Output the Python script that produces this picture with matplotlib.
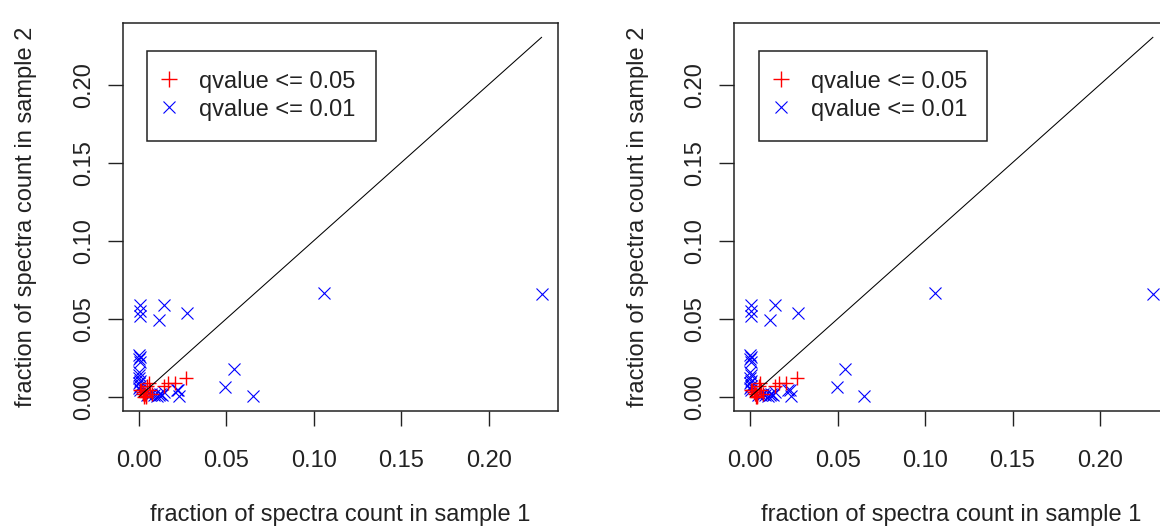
import matplotlib
matplotlib.use("Agg")
import matplotlib.pyplot as plt
from matplotlib.lines import Line2D

# points with qvalue <= 0.01 (blue x)
blue_x = [0.1059, 0.2305, 0.0543, 0.0493, 0.0650, 0.0272, 0.0140, 0.0112,
          0.0003, 0.0003, 0.0003, 0.0000, 0.0003, 0.0000, 0.0003, 0.0000,
          0.0002, 0.0000, 0.0003, 0.0000, 0.0003, 0.0000, 0.0005, 0.0225,
          0.0230, 0.0115, 0.0130, 0.0100, 0.0085, 0.0070, 0.0140, 0.0120,
          0.0060, 0.0045, 0.0215]
blue_y = [0.0667, 0.0658, 0.0180, 0.0060, 0.0005, 0.0538, 0.0588, 0.0490,
          0.0585, 0.0550, 0.0515, 0.0270, 0.0255, 0.0240, 0.0225, 0.0160,
          0.0140, 0.0120, 0.0100, 0.0085, 0.0070, 0.0055, 0.0045, 0.0045,
          0.0005, 0.0012, 0.0008, 0.0005, 0.0010, 0.0015, 0.0030, 0.0020,
          0.0008, 0.0012, 0.0040]

# points with qvalue <= 0.05 (red +)
red_x = [0.0268, 0.0165, 0.0140, 0.0205, 0.0055, 0.0048, 0.0010, 0.0005,
         0.0020, 0.0035, 0.0040, 0.0030, 0.0040, 0.0025, 0.0060, 0.0075]
red_y = [0.0118, 0.0085, 0.0070, 0.0085, 0.0085, 0.0070, 0.0045, 0.0040,
         0.0030, 0.0020, 0.0005, 0.0000, 0.0000, 0.0015, 0.0040, 0.0020]

# y = x reference line
diag = [0.0, 0.2303]

ticks = [0.00, 0.05, 0.10, 0.15, 0.20]
tick_labels = ["0.00", "0.05", "0.10", "0.15", "0.20"]
legend_labels = ["qvalue <= 0.05", "qvalue <= 0.01"]
xlabel = "fraction of spectra count in sample 1"
ylabel = "fraction of spectra count in sample 2"

plt.rcParams['font.family'] = ['Liberation Sans', 'DejaVu Sans']
plt.rcParams['font.size'] = 17

fig = plt.figure(figsize=(11.6, 5.29), dpi=100)

lo, hi = -0.0092, 0.2395

for left in [0.106, 0.633]:
    ax = fig.add_axes([left, 0.223, 0.3747, 0.7335])
    ax.plot(blue_x, blue_y, linestyle='none', marker='x', color='#0000FF',
            markersize=8, markeredgewidth=0.8)
    ax.plot(red_x, red_y, linestyle='none', marker='+', color='#FF0000',
            markersize=10, markeredgewidth=1.0)
    ax.plot(diag, diag, color='black', linewidth=0.75)

    ax.set_xlim(lo, hi)
    ax.set_ylim(lo, hi)
    ax.set_xticks(ticks)
    ax.set_xticklabels(tick_labels)
    ax.set_yticks(ticks)
    ax.set_yticklabels(tick_labels, rotation=90, va='center')
    ax.tick_params(axis='both', direction='out', length=11, width=1.0,
                   colors='#222222', labelcolor='#222222')
    ax.tick_params(axis='x', pad=17)
    ax.tick_params(axis='y', pad=9)
    for s in ax.spines.values():
        s.set_linewidth(1.1)
        s.set_color('#222222')

    ax.set_xlabel(xlabel, color='#222222')
    ax.xaxis.set_label_coords(0.5, -0.267)
    ax.xaxis.label.set_va('center')
    ax.set_ylabel(ylabel, color='#222222')
    ax.yaxis.set_label_coords(-0.222, 0.5)
    ax.yaxis.label.set_va('center')

    handles = [Line2D([], [], linestyle='none', marker='+', color='#FF0000',
                      markersize=11, markeredgewidth=1.0),
               Line2D([], [], linestyle='none', marker='x', color='#0000FF',
                      markersize=8, markeredgewidth=0.8)]
    leg = ax.legend(handles, legend_labels, loc='upper left',
                    bbox_to_anchor=(0.056, 0.929), borderaxespad=0,
                    fancybox=False, framealpha=1, edgecolor='#222222',
                    borderpad=0.85, handlelength=0.18, handletextpad=1.17,
                    labelspacing=0.25, numpoints=1)
    leg.get_frame().set_linewidth(1.1)
    for t in leg.get_texts():
        t.set_color('#222222')

fig.savefig("out.png", dpi=100)
